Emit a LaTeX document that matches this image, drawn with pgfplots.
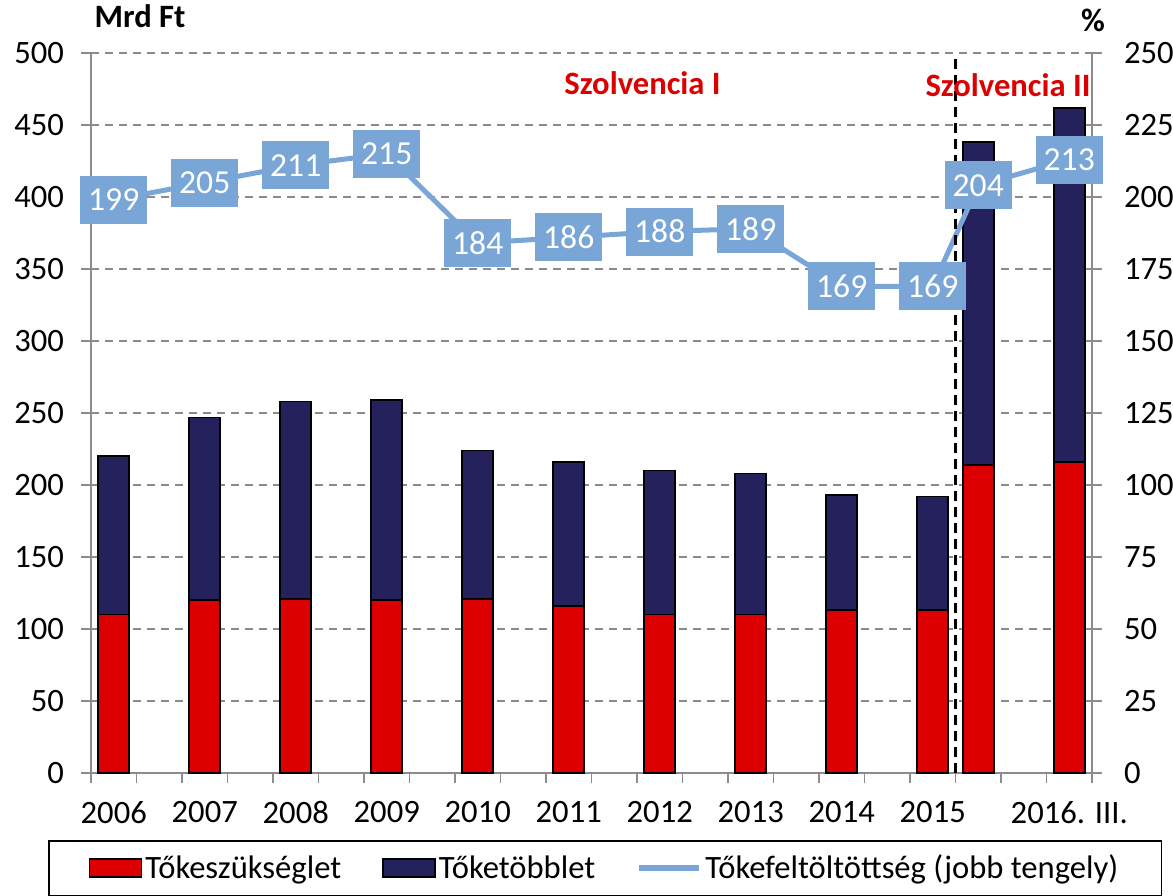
\documentclass[border=0pt]{standalone}
\usepackage{pgfplots}
\pgfplotsset{compat=1.18}
\usepackage{fontspec}
\setmainfont{Carlito}

\definecolor{barred}{HTML}{DD0000}
\definecolor{barnavy}{HTML}{24215C}
\definecolor{lineblue}{HTML}{79A6D6}
\definecolor{axisgray}{HTML}{8C8C8C}

% shared geometry of the two overlaid axes
\pgfplotsset{
  common/.style={
    at={(0,0)}, anchor=south west,
    scale only axis, width=500.5pt, height=360pt,
    xmin=-0.5, xmax=21.5,
    tick align=outside, major tick length=5pt,
    tick style={axisgray, line width=0.75pt},
    axis line style={axisgray, line width=0.75pt},
    /pgf/number format/assume math mode=true,
  }
}

\begin{document}
\begin{tikzpicture}[font=\fontsize{16.3}{19}\selectfont]
\useasboundingbox (-45.5pt,-61pt) rectangle (541pt,386.5pt);

% left axis: stacked bars
\begin{axis}[common,
  ymin=0, ymax=500, ytick={0,50,...,500},
  axis x line*=bottom, axis y line*=left,
  xtick={-0.5,0.5,...,21.5}, xticklabels={},
  ymajorgrids,
  grid style={axisgray, line width=0.75pt, dash pattern=on 4pt off 3pt},
  yticklabel style={xshift=-5pt},
  ybar stacked, bar width=0.68,
]
\addplot[fill=barred, draw=black, line width=0.8pt] coordinates {
  (0,110) (2,120) (4,121) (6,120) (8,121) (10,116)
  (12,110) (14,110) (16,113) (18,113) (19,214) (21,216)};
\addplot[fill=barnavy, draw=black, line width=0.8pt] coordinates {
  (0,110) (2,127) (4,137) (6,139) (8,103) (10,100)
  (12,100) (14,98) (16,80) (18,79) (19,224) (21,246)};
\end{axis}

% right axis: line with labels, x tick labels and legend
\begin{axis}[common,
  ymin=0, ymax=250, ytick={0,25,...,250},
  axis x line*=bottom, x axis line style={draw=none}, axis y line*=right,
  xtick={0,2,4,6,8,10,12,14,16,18,21},
  xticklabels={2006,2007,2008,2009,2010,2011,2012,2013,2014,2015,2016. III.},
  xtick style={draw=none},
  xticklabel style={yshift=-5.5pt},
  yticklabel style={xshift=7.5pt},
  legend columns=3, legend cell align=left,
  legend style={at={(0.5135,-0.0931)}, anchor=north, draw=black, line width=0.8pt,
    inner xsep=20pt, inner ysep=5pt,
    /tikz/every even column/.append style={column sep=19pt},
    nodes={inner xsep=1.5pt}},
]
\addlegendimage{legend image code/.code={\draw[fill=barred, draw=black, line width=0.8pt] (0pt,-4.5pt) rectangle (26pt,4.5pt);}}
\addlegendentry{Tőkeszükséglet}
\addlegendimage{legend image code/.code={\draw[fill=barnavy, draw=black, line width=0.8pt] (0pt,-4.5pt) rectangle (26pt,4.5pt);}}
\addlegendentry{Tőketöbblet}
\addlegendimage{legend image code/.code={\draw[lineblue, line width=3pt] (0pt,0pt) -- (30pt,0pt);}}
\addlegendentry{Tőkefeltöltöttség (jobb tengely)}

\addplot[lineblue, line width=2.5pt, forget plot,
  nodes near coords, nodes near coords align=center,
  every node near coord/.append style={fill=lineblue, text=white,
    inner xsep=4pt, inner ysep=0pt, minimum height=24pt,
    font=\fontsize{16.8}{19}\selectfont}]
  coordinates {
  (0,199) (2,205) (4,211) (6,215) (8,184) (10,186)
  (12,188) (14,189) (16,169) (18,169) (19,204) (21,213)};

\draw[black, line width=1.35pt, dash pattern=on 5pt off 3pt]
  (axis cs:18.5,0) -- (axis cs:18.5,250);
\end{axis}

\node[anchor=base, font=\fontsize{16.3}{19}\selectfont\bfseries] at (24.5pt,372.5pt) {Mrd Ft};
\node[anchor=base, font=\fontsize{16.3}{19}\selectfont\bfseries] at (501pt,370.5pt) {\%};
\node[anchor=base, text=barred, font=\fontsize{16.3}{19}\selectfont\bfseries] at (275.75pt,339pt) {Szolvencia I};
\node[anchor=base, text=barred, font=\fontsize{16.3}{19}\selectfont\bfseries] at (458.5pt,338pt) {Szolvencia II};
\end{tikzpicture}
\end{document}
